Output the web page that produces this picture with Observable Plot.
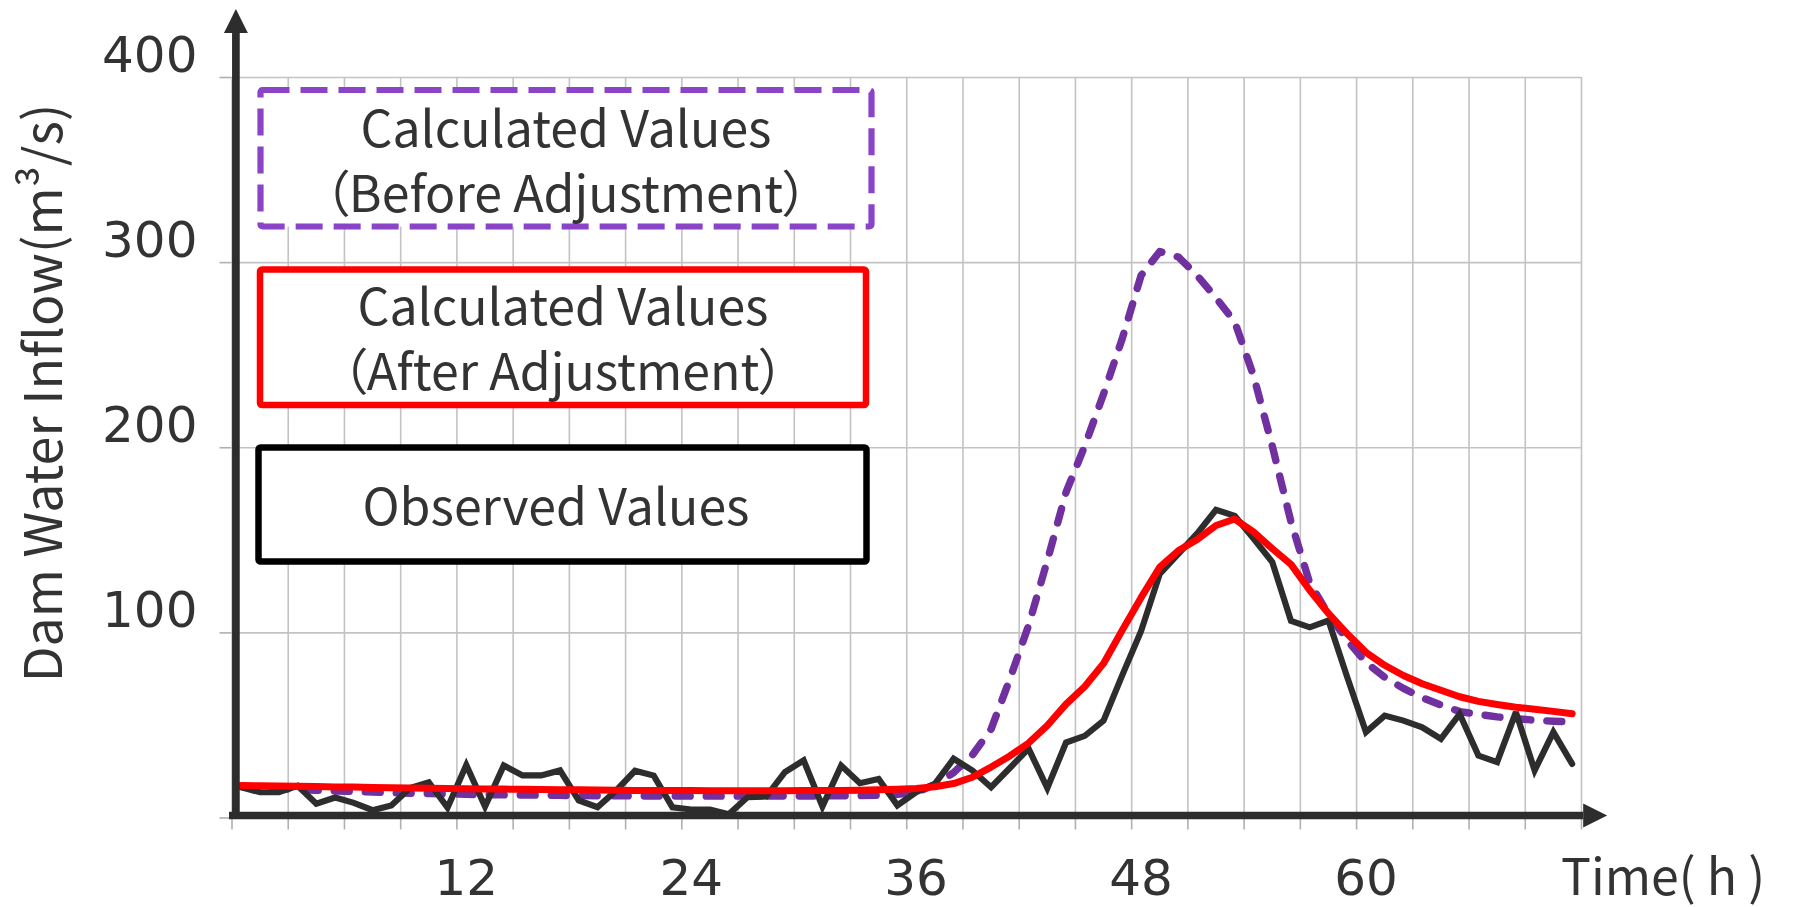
<!DOCTYPE html>
<html>
<head>
<meta charset="utf-8">
<script src="https://cdn.jsdelivr.net/npm/d3@7"></script>
<script src="https://cdn.jsdelivr.net/npm/@observablehq/plot@0.6"></script>
<style>
  html, body { margin: 0; padding: 0; background: #ffffff; }
  #chart { width: 1800px; height: 907px; }
</style>
</head>
<body>
<div id="chart"></div>
<script>
// ---------- data ----------
const hours = [0,1,2,3,4,5,6,7,8,9,10,11,12,13,14,15,16,17,18,19,20,21,22,23,24,25,26,27,28,29,30,31,32,33,34,35,36,37,38,39,40,41,42,43,44,45,46,47,48,49,50,51,52,53,54,55,56,57,58,59,60,61,62,63,64,65,66,67,68,69,70,71];

const observed = [16.6,13.9,13.9,17.4,7.7,11.1,8.2,4.2,6.8,16.2,
  19.3,5.6,28.6,6.2,28.4,23.0,23.0,25.7,9.5,5.8,
  14.9,25.5,22.9,5.8,4.6,4.6,2.0,11.2,11.6,24.8,
  31.1,6.2,28.3,18.8,21.1,6.8,13.9,18.4,32.0,25.7,
  16.6,27.0,37.5,16.2,40.8,44.4,52.6,77.2,100.9,131.9,
  142.8,153.7,166.5,163.2,151.0,138.3,106.5,103.0,106.7,76.1,
  46.4,55.3,52.6,49.0,42.7,56.2,33.7,30.2,57.2,25.7,
  46.4,29.2];

const calcAfter = [17.6,17.4,17.3,17.1,17.0,16.8,16.7,16.5,16.4,16.2,
  16.1,16.0,15.8,15.7,15.6,15.5,15.4,15.3,15.2,15.1,
  15.0,14.9,14.9,14.8,14.8,14.7,14.7,14.7,14.7,14.7,
  14.8,14.8,14.9,15.0,15.2,15.5,16.0,16.9,18.6,22.0,
  27.5,33.5,40.5,50.0,61.5,71.0,83.5,101.5,119.0,135.5,
  144.5,150.5,158.0,161.5,154.5,145.5,137.0,123.0,110.5,99.5,
  89.5,82.5,77.0,72.5,69.0,65.5,63.0,61.3,59.8,58.8,
  57.6,56.3];

const calcBefore = [17.0,16.4,15.9,15.4,15.0,14.6,14.3,14.0,13.7,13.4,
  13.2,13.0,12.8,12.6,12.5,12.4,12.3,12.2,12.1,12.0,
  12.0,11.9,11.9,11.9,11.8,11.8,11.8,11.8,11.8,11.9,
  11.9,11.9,12.0,12.1,12.3,12.8,13.8,18.0,24.5,34.0,
  48.0,75.0,104.0,139.0,176.0,201.0,229.0,259.0,293.0,306.0,
  303.0,293.0,281.0,268.0,239.0,201.0,160.0,127.0,110.0,96.0,
  84.0,76.0,70.0,65.0,61.0,57.5,56.0,54.6,53.7,52.8,
  52.3,51.9];

const gridHours = [-0.5,2.5,5.5,8.5,11.5,14.5,17.5,20.5,23.5,26.5,29.5,32.5,35.5,38.5,41.5,44.5,47.5,50.5,53.5,56.5,59.5,62.5,65.5,68.5,71.5];
const xTickLabels = [12, 24, 36, 48, 60];
const yGrid = [0, 100, 200, 300, 400];
const yTickLabels = [100, 200, 300, 400];
const xDomain = [-0.5, 71.5];
const yDomain = [0, 400];
const xAxisExtent = [-0.5, 71.75];
const yAxisExtent = [0, 424];

const yTitle = "Dam Water Inflow(m³/s)";
const xTitle = "Time( h )";
const legendBefore = ["Calculated Values", "（Before Adjustment）"];
const legendAfter = ["Calculated Values", "（After Adjustment）"];
const legendObserved = ["Observed Values"];

// ---------- table ----------
const table = hours.map((t, i) => ({t, observed: observed[i], after: calcAfter[i], before: calcBefore[i]}));

const gridColor = "#c3c3c3";
const axisColor = "#2d2d2d";
const textColor = "#333333";

const svg = Plot.plot({
  width: 1800,
  height: 907,
  marginLeft: 231.5,
  marginRight: 219,
  marginTop: 77,
  marginBottom: 89.5,
  style: {background: "#ffffff", color: textColor, fontFamily: "DejaVu Sans", fontSize: "50px", overflow: "visible"},
  x: {domain: xDomain, label: null},
  y: {domain: yDomain, label: null},
  marks: [
    Plot.ruleX(gridHours, {stroke: gridColor, strokeWidth: 1.6}),
    Plot.ruleY(yGrid, {stroke: gridColor, strokeWidth: 1.6}),
    Plot.axisX(gridHours, {tickSize: 12, tickFormat: () => "", stroke: "#b0b0b0", strokeWidth: 1.6}),
    Plot.axisY(yGrid, {tickSize: 12, tickFormat: () => "", stroke: "#b0b0b0", strokeWidth: 1.6}),
    Plot.axisX(xTickLabels, {tickSize: 0, tickPadding: 41.5, fill: textColor}),
    Plot.axisY(yTickLabels, {tickSize: 0, tickPadding: 34.5, dy: -22, fill: textColor}),
    Plot.line(table, {x: "t", y: "before", stroke: "#7030a0", strokeWidth: 7.4, strokeDasharray: "15,16", strokeLinecap: "round", strokeLinejoin: "round"}),
    Plot.line(table, {x: "t", y: "observed", stroke: "#2d2d2d", strokeWidth: 6.2, strokeLinejoin: "miter", strokeMiterlimit: 3}),
    Plot.line(table, {x: "t", y: "after", stroke: "#ff0000", strokeWidth: 7, strokeLinejoin: "round", strokeLinecap: "round"}),
    Plot.link([{x1: xAxisExtent[0], x2: xAxisExtent[1], y1: yAxisExtent[0], y2: yAxisExtent[0]}],
      {x1: "x1", x2: "x2", y1: "y1", y2: "y2", stroke: axisColor, strokeWidth: 7.5, dx: -3, dy: -2.5}),
    Plot.link([{x1: xDomain[0], x2: xDomain[0], y1: yAxisExtent[0], y2: yAxisExtent[1]}],
      {x1: "x1", x2: "x2", y1: "y1", y2: "y2", stroke: axisColor, strokeWidth: 7.7, dx: 3.9})
  ]
});

document.getElementById("chart").appendChild(svg);

const s = d3.select(svg);
const defs = s.append("defs");
defs.append("marker")
  .attr("id", "axisHead")
  .attr("markerUnits", "userSpaceOnUse")
  .attr("markerWidth", 30).attr("markerHeight", 30)
  .attr("viewBox", "0 -15 30 30")
  .attr("refX", 0).attr("refY", 0)
  .attr("orient", "auto")
  .append("path").attr("d", "M0,-12L24,0L0,12Z").attr("fill", axisColor);
s.selectAll('g[aria-label="link"] path').attr("marker-end", "url(#axisHead)");

// ---------- legend & titles ----------
const legendFont = "'Noto Sans CJK JP', 'Noto Sans', sans-serif";
const lg = s.append("g").attr("class", "legend");

function box(x, y, w, h, stroke, sw, dash) {
  const r = lg.append("rect").attr("x", x).attr("y", y).attr("width", w).attr("height", h)
    .attr("fill", "#ffffff").attr("stroke", stroke).attr("stroke-width", sw)
    .attr("stroke-linejoin", "round").attr("rx", 2);
  if (dash) r.attr("stroke-dasharray", dash);
}
function lines(cx, baselines, texts) {
  texts.forEach((t, i) => {
    lg.append("text").attr("x", cx).attr("y", baselines[i])
      .attr("text-anchor", "middle")
      .style("font-family", legendFont).style("font-size", "50px")
      .style("font-feature-settings", "'palt'")
      .attr("fill", textColor).text(t);
  });
}
box(260.5, 90, 611, 136.5, "#8b44c8", 6.2, "27,11");
lines(566, [146.7, 211.7], legendBefore);
box(260, 269.5, 606, 135.5, "#ff0000", 6.5);
lines(563, [325, 390], legendAfter);
box(258.5, 447.5, 608, 114, "#000000", 6.5);
lines(556, [525], legendObserved);

s.append("text")
  .attr("transform", "translate(62,393) rotate(-90)")
  .attr("text-anchor", "middle")
  .style("font-family", legendFont).style("font-size", "52px")
  .attr("fill", textColor).text(yTitle);

s.append("text")
  .attr("x", 1561).attr("y", 895)
  .attr("text-anchor", "start")
  .style("font-family", legendFont).style("font-size", "50px")
  .attr("fill", textColor).text(xTitle);
</script>
</body>
</html>
